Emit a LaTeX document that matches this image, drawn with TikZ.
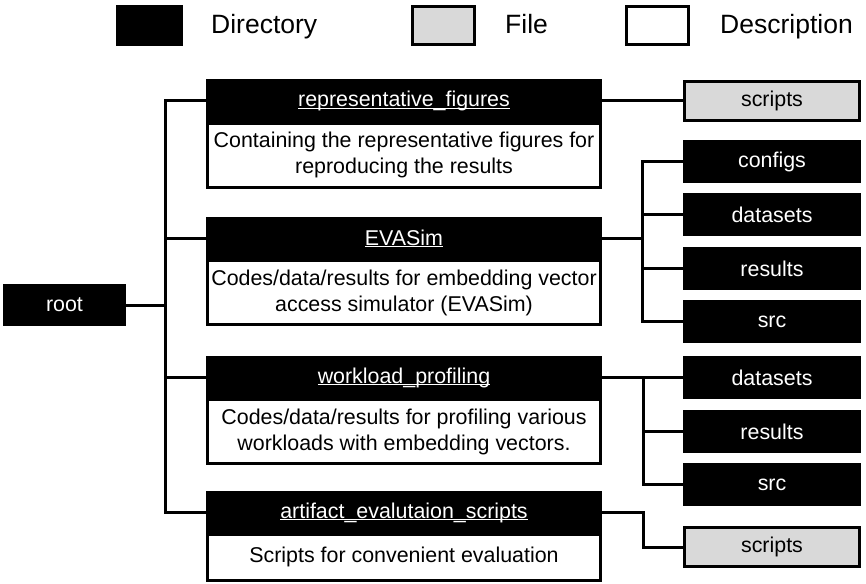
\documentclass[tikz,border=0pt]{standalone}
\usepackage{fontspec}
\setmainfont{Liberation Sans}
\definecolor{filegray}{HTML}{D9D9D9}
\newcommand\treefont{\fontsize{21.4}{26}\selectfont}
\newcommand\legfont{\fontsize{26.5}{30}\selectfont}
% white underline for directory titles
\newcommand\dirul[1]{\sbox0{#1}\rlap{\rule[-2.4pt]{\wd0}{1.3pt}}#1}
\tikzset{
  dirbox/.style={fill=black, text=white, inner sep=0pt, minimum height=43pt, font=\treefont},
  filebox/.style={draw=black, line width=3pt, fill=filegray, inner sep=0pt, minimum height=39pt, font=\treefont},
  descbox/.style={draw=black, line width=3pt, fill=white, align=center, inner sep=0pt, font=\treefont},
  legtext/.style={anchor=base west, inner sep=0pt, font=\legfont},
  link/.style={line width=3pt},
}
\begin{document}
\begin{tikzpicture}[x=1pt,y=-1pt]
\useasboundingbox (0,0) rectangle (866,583);
% legend
\node[fill=black, minimum width=67pt, minimum height=41pt] (legdir) at (149.5,25.5) {};
\node[legtext] (legdirt) at (211,34) {Directory};
\node[draw=black, line width=3pt, fill=filegray, minimum width=62pt, minimum height=38pt] (legfile) at (443.5,25.5) {};
\node[legtext] (legfilet) at (505,34) {File};
\node[draw=black, line width=3pt, fill=white, minimum width=62pt, minimum height=38pt] (legdesc) at (657.5,25.5) {};
\node[legtext] (legdesct) at (720,34) {Description};
% root
\node[dirbox, minimum width=123pt, minimum height=42pt] (root) at (64.5,305) {root};
% first level directories
\node[descbox, minimum width=393pt, minimum height=64pt] (d1) at (404,155) {Containing the representative figures for\\reproducing the results};
\node[dirbox, minimum width=396pt] (t1) at (404,101) {\dirul{representative\_figures}};
\node[descbox, minimum width=393pt, minimum height=64pt] (d2) at (404,292.5) {Codes/data/results for embedding vector\\access simulator (EVASim)};
\node[dirbox, minimum width=396pt] (t2) at (404,238.5) {\dirul{EVASim}};
\node[descbox, minimum width=393pt, minimum height=64pt] (d3) at (404,431.5) {Codes/data/results for profiling various\\workloads with embedding vectors.};
\node[dirbox, minimum width=396pt] (t3) at (404,377.5) {\dirul{workload\_profiling}};
\node[descbox, minimum width=393pt, minimum height=46pt] (d4) at (404,557) {Scripts for convenient evaluation};
\node[dirbox, minimum width=396pt] (t4) at (404,512.5) {\dirul{artifact\_evalutaion\_scripts}};
% second level
\node[filebox, minimum width=175pt] (sc1) at (772,101) {scripts};
\node[dirbox, minimum width=178pt] (cfg) at (772,161.5) {configs};
\node[dirbox, minimum width=178pt] (ds1) at (772,214.5) {datasets};
\node[dirbox, minimum width=178pt] (res1) at (772,268.5) {results};
\node[dirbox, minimum width=178pt] (src1) at (772,321.5) {src};
\node[dirbox, minimum width=178pt] (ds2) at (772,377.5) {datasets};
\node[dirbox, minimum width=178pt] (res2) at (772,431.5) {results};
\node[dirbox, minimum width=178pt] (src2) at (772,484.5) {src};
\node[filebox, minimum width=175pt] (sc2) at (772,547) {scripts};
% connectors
\coordinate (trunk) at (165,305);
\coordinate (evfork) at (642,238.5);
\coordinate (wpfork) at (643,377.5);
\coordinate (affork) at (643,512.5);
\draw[link] (root.east) -- (trunk);
\draw[link] (t1.west) -| (trunk) |- (t4.west);
\draw[link] (trunk |- t2.west) -- (t2.west);
\draw[link] (trunk |- t3.west) -- (t3.west);
\draw[link] (t1.east) -- (sc1.west);
\draw[link] (t2.east) -- (evfork);
\draw[link] (cfg.west) -| (evfork) |- (src1.west);
\draw[link] (evfork |- ds1.west) -- (ds1.west);
\draw[link] (evfork |- res1.west) -- (res1.west);
\draw[link] (t3.east) -- (ds2.west);
\draw[link] (wpfork) |- (src2.west);
\draw[link] (wpfork |- res2.west) -- (res2.west);
\draw[link] (t4.east) -- (affork) |- (sc2.west);
\end{tikzpicture}
\end{document}
